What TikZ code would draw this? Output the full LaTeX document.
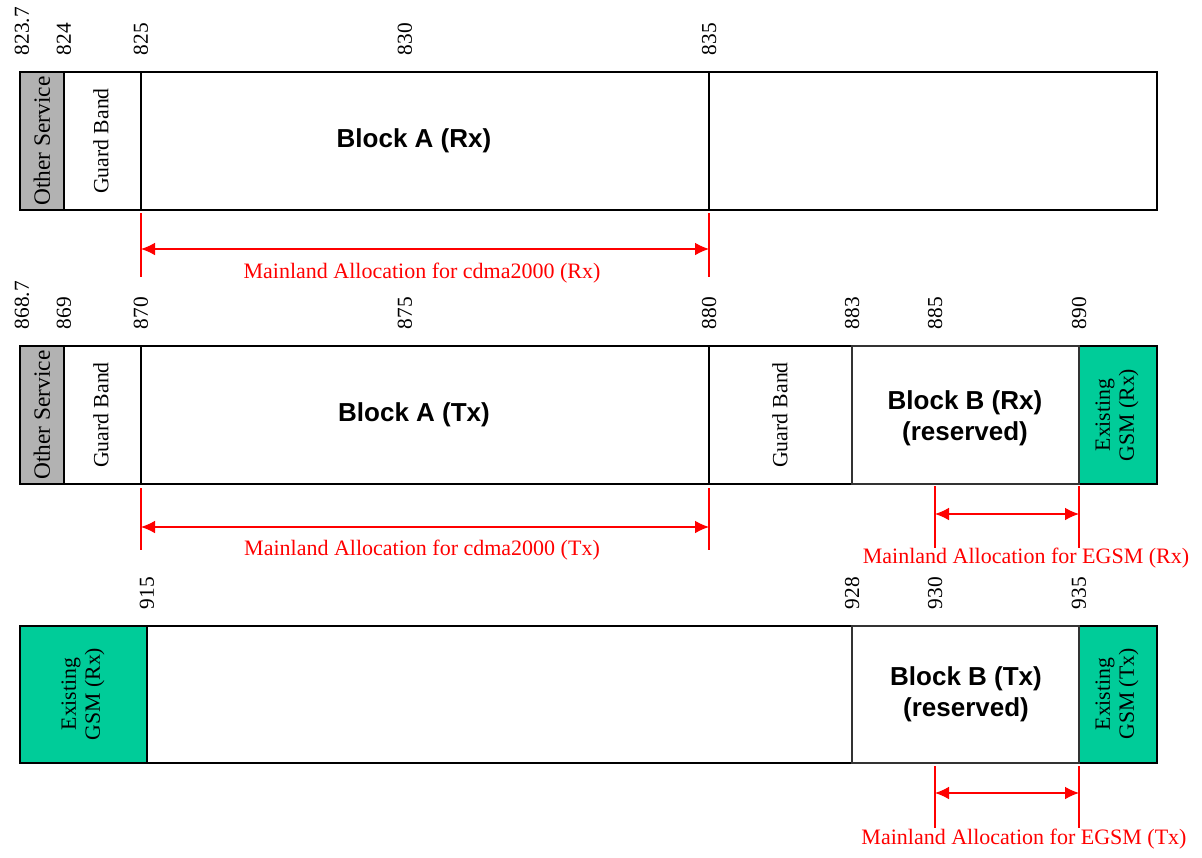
\documentclass[tikz,border=0pt]{standalone}
\usepackage{fontspec}
\setmainfont{Liberation Serif}
\setsansfont{Liberation Sans}
\usetikzlibrary{arrows.meta}
\definecolor{gsmgreen}{RGB}{0,204,153}
\definecolor{othergray}{RGB}{178,178,178}
\begin{document}
\begin{tikzpicture}[x=0.75pt, y=-0.75pt, line width=1.1pt,
  freq/.style={rotate=90, anchor=west, inner sep=0pt, font=\fontsize{16}{18}\selectfont},
  vlabel/.style={rotate=90, align=center, inner sep=0pt, font=\fontsize{16.3}{18}\selectfont},
  blocklabel/.style={align=center, inner sep=0pt, font=\sffamily\bfseries\fontsize{19.5}{23}\selectfont},
  dimtick/.style={red, line width=0.9pt},
  dimarrow/.style={red, line width=0.9pt, {Latex[length=10.5pt,width=9.5pt]}-{Latex[length=10.5pt,width=9.5pt]}},
  dimlabel/.style={red, inner sep=0pt, font=\fontsize{16.5}{18}\selectfont}]
  \useasboundingbox (0,0) rectangle (1202,857);

  % 823.7 -- 835 (Rx)
  \fill[othergray] (20,72) rectangle (64,210);
  \draw (20,72) rectangle (1157,210);
  \draw (64,72) -- (64,210) (141,72) -- (141,210) (709,72) -- (709,210);
  \node[vlabel, font=\fontsize{17.5}{18}\selectfont] (os1) at (42,141) {Other Service};
  \node[vlabel] (gb1) at (101,141) {Guard Band};
  \node[blocklabel] (blka1) at (414,141) {Block A (Rx)};
  \foreach \x/\f in {22/823.7, 64/824, 141/825, 405/830, 709/835}
    \node[freq] (fa\x) at (\x,56) {\f};

  \coordinate (ta1) at (141,213); \coordinate (tb1) at (141,277);
  \coordinate (tc1) at (709,213); \coordinate (td1) at (709,277);
  \coordinate (al1) at (141,249); \coordinate (ar1) at (709,249);
  \draw[dimtick] (ta1) -- (tb1) (tc1) -- (td1);
  \draw[dimarrow] (al1) -- (ar1);
  \node[dimlabel] (dim1) at (422,273) {Mainland Allocation for cdma2000 (Rx)};

  % 868.7 -- 890 (Tx)
  \fill[othergray] (20,346) rectangle (64,484);
  \fill[gsmgreen] (1079,346) rectangle (1157,484);
  \draw (20,346) rectangle (1157,484);
  \draw (64,346) -- (64,484) (141,346) -- (141,484) (709,346) -- (709,484);
  \draw[black!80] (852,346) rectangle (1079,484);
  \node[vlabel, font=\fontsize{17.5}{18}\selectfont] (os2) at (42,415) {Other Service};
  \node[vlabel] (gb2) at (101,415) {Guard Band};
  \node[blocklabel] (blka2) at (414,415) {Block A (Tx)};
  \node[vlabel] (gb3) at (780,415) {Guard Band};
  \node[blocklabel] (blkb1) at (965,418) {Block B (Rx)\\(reserved)};
  \node[vlabel] (gsm1) at (1117,415) {Existing\\GSM (Rx)};
  \foreach \x/\f in {22/868.7, 64/869, 141/870, 405/875, 709/880, 852/883, 935/885, 1079/890}
    \node[freq] (fb\x) at (\x,330) {\f};

  \coordinate (ta2) at (141,488); \coordinate (tb2) at (141,550);
  \coordinate (tc2) at (709,488); \coordinate (td2) at (709,550);
  \coordinate (al2) at (141,527); \coordinate (ar2) at (709,527);
  \draw[dimtick] (ta2) -- (tb2) (tc2) -- (td2);
  \draw[dimarrow] (al2) -- (ar2);
  \node[dimlabel] (dim2) at (422,550) {Mainland Allocation for cdma2000 (Tx)};

  \coordinate (ta3) at (935,486); \coordinate (tb3) at (935,548);
  \coordinate (tc3) at (1079,486); \coordinate (td3) at (1079,548);
  \coordinate (al3) at (935,514); \coordinate (ar3) at (1079,514);
  \draw[dimtick] (ta3) -- (tb3) (tc3) -- (td3);
  \draw[dimarrow] (al3) -- (ar3);
  \node[dimlabel] (dim3) at (1026,558) {Mainland Allocation for EGSM (Rx)};

  % 915 -- 935
  \fill[gsmgreen] (20,626) rectangle (147,763);
  \fill[gsmgreen] (1079,626) rectangle (1157,763);
  \draw (20,626) rectangle (1157,763);
  \draw (147,626) -- (147,763);
  \draw[black!80] (852,626) rectangle (1079,763);
  \node[vlabel] (gsm2) at (83,694) {Existing\\GSM (Rx)};
  \node[blocklabel] (blkb2) at (966,694) {Block B (Tx)\\(reserved)};
  \node[vlabel] (gsm3) at (1117,694) {Existing\\GSM (Tx)};
  \foreach \x/\f in {147/915, 852/928, 935/930, 1079/935}
    \node[freq] (fc\x) at (\x,610) {\f};

  \coordinate (ta4) at (935,766); \coordinate (tb4) at (935,828);
  \coordinate (tc4) at (1079,766); \coordinate (td4) at (1079,828);
  \coordinate (al4) at (935,793); \coordinate (ar4) at (1079,793);
  \draw[dimtick] (ta4) -- (tb4) (tc4) -- (td4);
  \draw[dimarrow] (al4) -- (ar4);
  \node[dimlabel] (dim4) at (1024,839) {Mainland Allocation for EGSM (Tx)};
\end{tikzpicture}
\end{document}
